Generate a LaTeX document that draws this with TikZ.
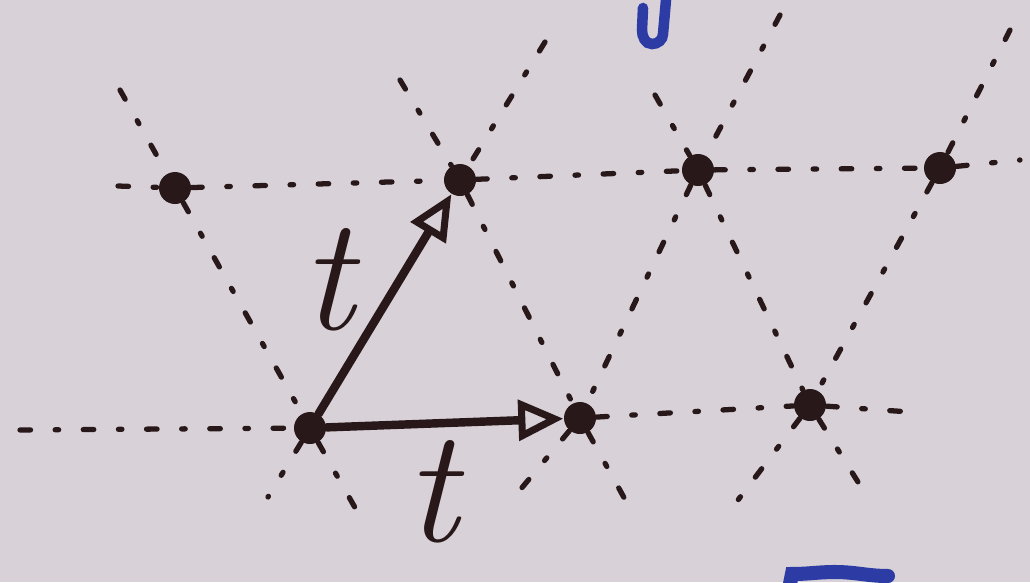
\documentclass[tikz,border=0pt]{standalone}
\usetikzlibrary{arrows.meta}
\definecolor{paper}{RGB}{216,210,216}
\definecolor{ink}{RGB}{40,24,26}
\definecolor{pen}{RGB}{45,60,165}
\begin{document}
\begin{tikzpicture}[x=1cm, y=-1cm,
  site/.style={circle, fill=ink, inner sep=0pt, minimum size=3.2mm},
  lat/.style={ink, line width=1.5pt, line cap=round, dash pattern=on 3pt off 7pt on 1pt off 7pt},
  hop/.style={ink, line width=2.4pt, line cap=round, -{Triangle[open, length=4.5mm, width=4mm, line width=2pt]}},
  lbl/.style={ink, font=\fontsize{46}{46}\selectfont\itshape}]
  \fill[paper] (0,0) rectangle (10.3,5.82);
  \useasboundingbox (0,0) rectangle (10.3,5.82);
  % lattice sites
  \node[site] (a) at (1.75,1.88) {};
  \node[site] (b) at (4.60,1.80) {};
  \node[site] (c) at (6.98,1.70) {};
  \node[site] (d) at (9.40,1.68) {};
  \node[site] (e) at (3.10,4.28) {};
  \node[site] (f) at (5.80,4.18) {};
  \node[site] (g) at (8.10,4.05) {};
  % free ends of the lattice lines
  \coordinate (tl) at (1.18,1.86);
  \coordinate (tr) at (10.20,1.60);
  \coordinate (bl) at (0.20,4.30);
  \coordinate (br) at (9.10,4.12);
  \coordinate (a1) at (1.20,0.90);
  \coordinate (e1) at (3.62,5.20);
  \coordinate (b1) at (4.00,0.80);
  \coordinate (f1) at (6.32,5.12);
  \coordinate (b2) at (5.45,0.42);
  \coordinate (e2) at (2.68,4.97);
  \coordinate (c1) at (6.55,0.95);
  \coordinate (g1) at (8.58,4.82);
  \coordinate (c2) at (7.80,0.15);
  \coordinate (f2) at (5.20,4.90);
  \coordinate (d1) at (10.10,0.30);
  \coordinate (g2) at (7.38,5.00);
  % dotted lattice
  \draw[lat] (tl) -- (a) -- (b) -- (c) -- (d) -- (tr);
  \draw[lat] (bl) -- (e);
  \draw[lat] (f) -- (g) -- (br);
  \draw[lat] (a1) -- (a) -- (e) -- (e1);
  \draw[lat] (b1) -- (b) -- (f) -- (f1);
  \draw[lat] (b2) -- (b);
  \draw[lat] (e) -- (e2);
  \draw[lat] (c1) -- (c) -- (g) -- (g1);
  \draw[lat] (c2) -- (c) -- (f) -- (f2);
  \draw[lat] (d1) -- (d) -- (g) -- (g2);
  % hopping vectors
  \draw[hop] (e) -- (b);
  \draw[hop] (e) -- (f);
  \node[lbl] (t1) at (3.28,2.80) {t};
  \node[lbl] (t2) at (4.32,4.92) {t};
  % blue pen marks at the edges
  \draw[pen, line width=3pt, line cap=round] (6.66,0.00) -- (6.63,0.34) to[out=270, in=0] (6.52,0.44) to[out=180, in=270] (6.42,0.30) -- (6.43,0.08);
  \draw[pen, line width=4pt, line cap=round] (7.90,5.84) -- (7.92,5.74) to[out=0, in=180] (8.35,5.72) to[out=0, in=180] (8.88,5.76);
\end{tikzpicture}
\end{document}
